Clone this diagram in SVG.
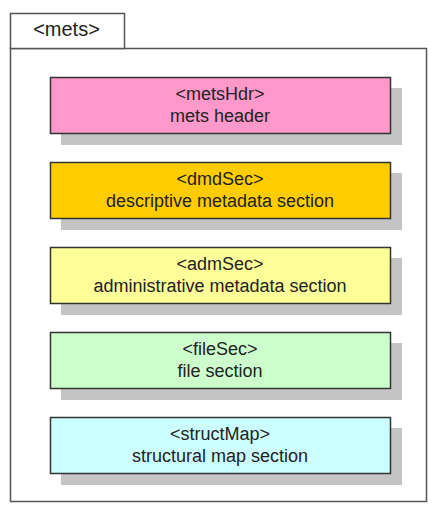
<svg xmlns="http://www.w3.org/2000/svg" width="431" height="506" viewBox="0 0 431 506">
<style>
.frame{fill:#fff;stroke:#555;stroke-width:1.5}
.box{stroke:#333;stroke-width:1.5}
.shadow{fill:#c4c4c4}
text{font-family:"Liberation Sans",Arial,sans-serif;font-size:18px;fill:#222;text-anchor:middle}
.tab{font-size:20px}
</style>
<rect width="431" height="506" fill="#fff"/>
<g id="mets">
<rect class="frame" x="10.5" y="48.5" width="416" height="453"/>
<rect class="frame" x="10.5" y="13.5" width="114" height="35"/>
<text class="tab" x="66.5" y="36">&lt;mets&gt;</text>
</g>
<g id="metsHdr">
<rect class="shadow" x="61" y="88" width="341" height="57"/>
<rect class="box" x="50.5" y="77.5" width="340" height="56" fill="#ff99cc"/>
<text x="220" y="100">&lt;metsHdr&gt;</text>
<text x="220" y="122">mets header</text>
</g>
<g id="dmdSec">
<rect class="shadow" x="61" y="173" width="341" height="57"/>
<rect class="box" x="50.5" y="162.5" width="340" height="56" fill="#ffcc00"/>
<text x="220" y="185">&lt;dmdSec&gt;</text>
<text x="220" y="207">descriptive metadata section</text>
</g>
<g id="admSec">
<rect class="shadow" x="61" y="258" width="341" height="57"/>
<rect class="box" x="50.5" y="247.5" width="340" height="56" fill="#ffff99"/>
<text x="220" y="270">&lt;admSec&gt;</text>
<text x="220" y="292">administrative metadata section</text>
</g>
<g id="fileSec">
<rect class="shadow" x="61" y="343" width="341" height="57"/>
<rect class="box" x="50.5" y="332.5" width="340" height="56" fill="#ccffcc"/>
<text x="220" y="355">&lt;fileSec&gt;</text>
<text x="220" y="377">file section</text>
</g>
<g id="structMap">
<rect class="shadow" x="61" y="428" width="341" height="57"/>
<rect class="box" x="50.5" y="417.5" width="340" height="56" fill="#ccffff"/>
<text x="220" y="440">&lt;structMap&gt;</text>
<text x="220" y="462">structural map section</text>
</g>
<g id="connectors"/>
</svg>
